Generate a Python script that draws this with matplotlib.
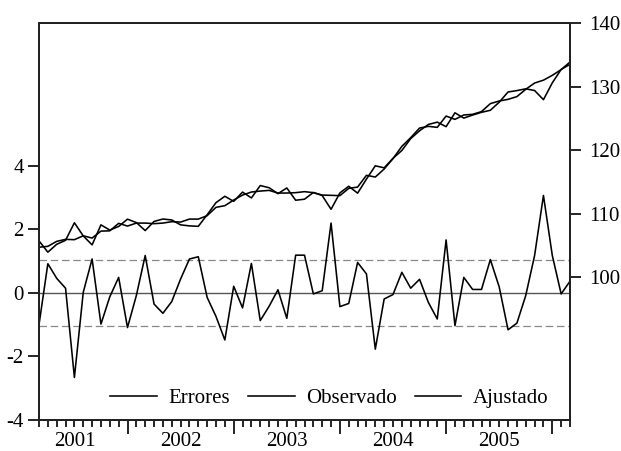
import numpy as np
import matplotlib
matplotlib.use("Agg")
import matplotlib.pyplot as plt
from matplotlib.lines import Line2D

plt.rcParams['font.family'] = ['Liberation Serif', 'DejaVu Serif']

# Monthly observations 2001M03 .. 2006M03
residuals = [-1.00, 0.92, 0.46, 0.15, -2.66, 0.02, 1.07, -0.98, -0.12, 0.49,
             -1.09, -0.08, 1.18, -0.35, -0.64, -0.27, 0.44, 1.07, 1.14, -0.14,
             -0.74, -1.48, 0.21, -0.47, 0.93, -0.87, -0.42, 0.10, -0.80, 1.19,
             1.19, -0.03, 0.07, 2.20, -0.43, -0.33, 0.96, 0.60, -1.77, -0.19,
             -0.05, 0.65, 0.15, 0.43, -0.30, -0.82, 1.67, -1.03, 0.49, 0.11,
             0.11, 1.05, 0.19, -1.16, -0.95, -0.08, 1.18, 3.07, 1.18, -0.03,
             0.37]

observado = [104.70, 104.84, 105.62, 105.94, 105.89, 106.50, 106.14, 107.24, 107.28, 108.46,
             108.03, 108.50, 108.50, 108.41, 108.50, 108.72, 108.66, 109.13, 109.13, 109.67,
             110.98, 111.24, 112.13, 112.91, 113.39, 113.54, 113.65, 113.23, 113.23, 113.29,
             113.45, 113.29, 112.91, 112.87, 112.82, 113.97, 114.17, 116.02, 115.75, 117.01,
             118.65, 120.58, 121.95, 123.46, 123.73, 123.57, 125.35, 124.83, 125.52, 125.62,
             126.05, 127.31, 127.72, 127.98, 128.41, 129.56, 130.55, 131.00, 131.76, 132.66,
             133.86]

ajustado = [105.70, 103.92, 105.16, 105.79, 108.55, 106.48, 105.07, 108.22, 107.40, 107.97,
            109.12, 108.58, 107.32, 108.76, 109.14, 108.99, 108.22, 108.06, 107.99, 109.81,
            111.72, 112.72, 111.92, 113.38, 112.46, 114.41, 114.07, 113.13, 114.03, 112.10,
            112.26, 113.32, 112.84, 110.67, 113.25, 114.30, 113.21, 115.42, 117.52, 117.20,
            118.70, 119.93, 121.80, 123.03, 124.03, 124.39, 123.68, 125.86, 125.03, 125.51,
            125.94, 126.26, 127.53, 129.14, 129.36, 129.64, 129.37, 127.93, 130.58, 132.69,
            133.49]

start_month = 3          # March 2001
start_year = 2001
year_labels = ["2001", "2002", "2003", "2004", "2005"]
left_ticks = [-4, -2, 0, 2, 4]
right_ticks = [100, 110, 120, 130, 140]
band = 1.03
legend_labels = ["Errores", "Observado", "Ajustado"]

n = len(observado)
x = np.arange(n)
# month offset of January of each year, relative to first obs
jan_pos = [(12 * (int(y) - start_year) - (start_month - 1)) for y in year_labels] + \
          [12 * (int(year_labels[-1]) + 1 - start_year) - (start_month - 1)]
mid_pos = [p + 6 for p in jan_pos[:-1]]
jan_in = [p for p in jan_pos if 0 <= p <= n - 1]

fig = plt.figure(figsize=(6.21, 4.51), dpi=100)
ax = fig.add_axes([39 / 621, 31 / 451, 531 / 621, 397 / 451])
ax2 = ax.twinx()

fs = 15
lw = 1.15

# residual panel
ax.axhline(0, color='#555555', lw=1.0, zorder=1)
ax.axhline(band, color='#888888', lw=0.9, ls=(0, (6, 3)), zorder=1)
ax.axhline(-band, color='#888888', lw=0.9, ls=(0, (6, 3)), zorder=1)
ax.plot(x, residuals, color='black', lw=lw, zorder=3)
ax.set_ylim(-4, 8.5)
ax.set_yticks(left_ticks)
ax.set_yticklabels([str(t) for t in left_ticks])
ax.set_xlim(0, n - 1)

# actual / fitted
ax2.plot(x, observado, color='black', lw=lw)
ax2.plot(x, ajustado, color='black', lw=lw)
ax2.set_ylim(77.5, 140)
ax2.set_yticks(right_ticks)
ax2.set_yticklabels([str(t) for t in right_ticks])

for a in (ax, ax2):
    for s in a.spines.values():
        s.set_linewidth(1.4)
        s.set_color('#222222')

ax.tick_params(axis='y', direction='out', length=8, width=1.2, pad=3, labelsize=fs)
ax2.tick_params(axis='y', direction='out', length=8, width=1.2, pad=6, labelsize=fs)

ax.set_xticks(jan_in)
ax.set_xticklabels([])
ax.set_xticks(x, minor=True)
ax.tick_params(axis='x', which='major', direction='out', length=10, width=1.2)
ax.tick_params(axis='x', which='minor', direction='out', length=5, width=1.2)

sec = ax.secondary_xaxis('bottom')
sec.set_xticks(mid_pos)
sec.set_xticklabels(year_labels)
sec.tick_params(axis='x', length=0, pad=9, labelsize=fs)
sec.spines['bottom'].set_visible(False)

handles = [Line2D([], [], color='black', lw=lw) for _ in legend_labels]
leg = ax2.legend(handles, legend_labels, loc='center left',
                 bbox_to_anchor=(0.134, 0.055), ncol=3, frameon=False,
                 fontsize=fs, handlelength=2.25, handletextpad=0.55,
                 columnspacing=0.85, borderpad=0, borderaxespad=0)

fig.savefig("out.png", dpi=100)
